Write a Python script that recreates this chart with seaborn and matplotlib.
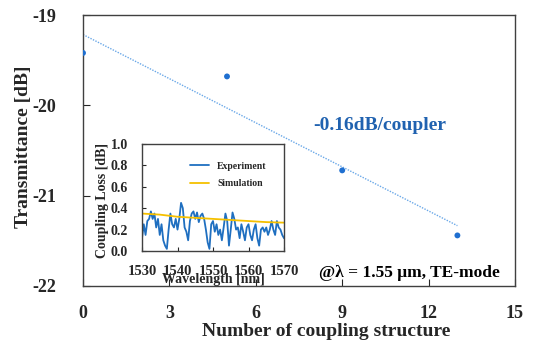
import numpy as np
import pandas as pd
import matplotlib
matplotlib.use("Agg")
import matplotlib.pyplot as plt
import seaborn as sns

# ---- data ----
n_couplers = [0, 5, 9, 13]
transmittance = [-19.42, -19.68, -20.72, -21.44]
x_ticks = [0, 3, 6, 9, 12, 15]
y_ticks = [-19, -20, -21, -22]

wavelength = [1530, 1530.5, 1531, 1531.5, 1532, 1532.5, 1533, 1533.5, 1534, 1534.5,
              1535, 1535.5, 1536, 1536.5, 1537, 1537.5, 1538, 1538.5, 1539, 1539.5,
              1540, 1540.5, 1541, 1541.5, 1542, 1542.5, 1543, 1543.5, 1544, 1544.5,
              1545, 1545.5, 1546, 1546.5, 1547, 1547.5, 1548, 1548.5, 1549, 1549.5,
              1550, 1550.5, 1551, 1551.5, 1552, 1552.5, 1553, 1553.5, 1554, 1554.5,
              1555, 1555.5, 1556, 1556.5, 1557, 1557.5, 1558, 1558.5, 1559, 1559.5,
              1560, 1560.5, 1561, 1561.5, 1562, 1562.5, 1563, 1563.5, 1564, 1564.5,
              1565, 1565.5, 1566, 1566.5, 1567, 1567.5, 1568, 1568.5, 1569, 1569.5, 1570]
experiment = [0.12, 0.25, 0.15, 0.28, 0.30, 0.37, 0.30, 0.35, 0.22, 0.30,
              0.15, 0.25, 0.10, 0.05, 0.02, 0.20, 0.35, 0.25, 0.22, 0.30,
              0.20, 0.30, 0.45, 0.40, 0.22, 0.18, 0.10, 0.28, 0.35, 0.37,
              0.30, 0.36, 0.27, 0.33, 0.35, 0.30, 0.20, 0.08, 0.02, 0.25,
              0.28, 0.18, 0.25, 0.15, 0.20, 0.10, 0.22, 0.35, 0.28, 0.05,
              0.20, 0.36, 0.30, 0.20, 0.22, 0.12, 0.25, 0.18, 0.10, 0.22,
              0.25, 0.15, 0.10, 0.20, 0.25, 0.12, 0.05, 0.20, 0.22, 0.18,
              0.22, 0.15, 0.20, 0.28, 0.20, 0.15, 0.28, 0.22, 0.20, 0.15, 0.12]
sim_wavelength = [1530, 1535, 1540, 1545, 1550, 1555, 1560, 1565, 1570]
simulation = [0.35, 0.34, 0.32, 0.31, 0.30, 0.29, 0.28, 0.27, 0.265]
inset_xticks = [1530, 1540, 1550, 1560, 1570]
inset_yticks = [0.0, 0.2, 0.4, 0.6, 0.8, 1.0]

# ---- style ----
sns.set_style("ticks")
plt.rcParams['font.family'] = ['Liberation Serif', 'DejaVu Serif']
plt.rcParams['font.weight'] = 'bold'
plt.rcParams['axes.unicode_minus'] = False

fig = plt.figure(figsize=(5.4, 3.41), dpi=100)
ax = fig.add_axes([83/540, 1-286/341, 432/540, 271/341])

df = pd.DataFrame({"n": n_couplers, "t": transmittance})
sns.regplot(data=df, x="n", y="t", ax=ax, ci=None, scatter=False,
            line_kws=dict(color="#6aa8e8", lw=1.0, ls=(0, (1, 1))))
sns.scatterplot(data=df, x="n", y="t", ax=ax, color="#1f6fd0", s=18,
                edgecolor="none", zorder=5)

ax.set_xlim(0, 15)
ax.set_ylim(-22, -19)
ax.set_xticks(x_ticks)
ax.set_yticks(y_ticks)
ax.set_xticklabels([str(v) for v in x_ticks], fontsize=13, fontweight='bold')
ax.set_yticklabels([str(v) for v in y_ticks], fontsize=13, fontweight='bold')
ax.tick_params(axis='y', direction='in', length=5, pad=19, width=0.8)
ax.tick_params(axis='x', direction='in', length=5, pad=14, width=0.8)
for s in ax.spines.values():
    s.set_color("#404040")
    s.set_linewidth(1.0)

ax.set_xlabel("Number of coupling structure", fontsize=14, fontweight='bold')
ax.xaxis.set_label_coords(0.5625, -0.135)
ax.set_ylabel("Transmittance [dB]", fontsize=14, fontweight='bold')
ax.yaxis.set_label_coords(-0.118, 0.513)

ax.text(380/540, 1-125/341, "-0.16dB/coupler", transform=fig.transFigure,
        ha='center', va='center', fontsize=14, fontweight='bold', color="#2062b0")
ax.text(409/540, 1-273/341, "@λ = 1.55 μm, TE-mode", transform=fig.transFigure,
        ha='center', va='center', fontsize=12.5, fontweight='bold', color="black")

# ---- inset ----
ax2 = fig.add_axes([142/540, 1-251/341, 142/540, 107/341])
dfe = pd.DataFrame({"w": wavelength, "v": experiment})
dfs = pd.DataFrame({"w": sim_wavelength, "v": simulation})
sns.lineplot(data=dfe, x="w", y="v", ax=ax2, color="#1f6fc0", lw=1.3, label="Experiment")
sns.lineplot(data=dfs, x="w", y="v", ax=ax2, color="#f5c000", lw=1.3, label="Simulation")
ax2.set_xlim(1530, 1570)
ax2.set_ylim(0, 1.0)
ax2.set_xticks(inset_xticks)
ax2.set_yticks(inset_yticks)
ax2.set_xticklabels([str(v) for v in inset_xticks], fontsize=10.5, fontweight='bold')
ax2.set_yticklabels([f"{v:.1f}" for v in inset_yticks], fontsize=10, fontweight='bold')
ax2.tick_params(axis='both', direction='in', length=3, width=0.8)
ax2.tick_params(axis='y', pad=10)
ax2.tick_params(axis='x', pad=10)
for s in ax2.spines.values():
    s.set_color("#404040")
    s.set_linewidth(1.0)
ax2.set_xlabel("Wavelength [nm]", fontsize=10, fontweight='bold')
ax2.xaxis.set_label_coords(0.5, -0.21)
ax2.set_ylabel("Coupling Loss [dB]", fontsize=10, fontweight='bold')
ax2.yaxis.set_label_coords(-0.235, 0.47)
leg = ax2.legend(loc='upper right', frameon=False, prop=dict(size=7, weight='bold'),
                 handlelength=2.0, borderaxespad=1.4, labelspacing=0.9)

fig.savefig("out.png", dpi=100)
